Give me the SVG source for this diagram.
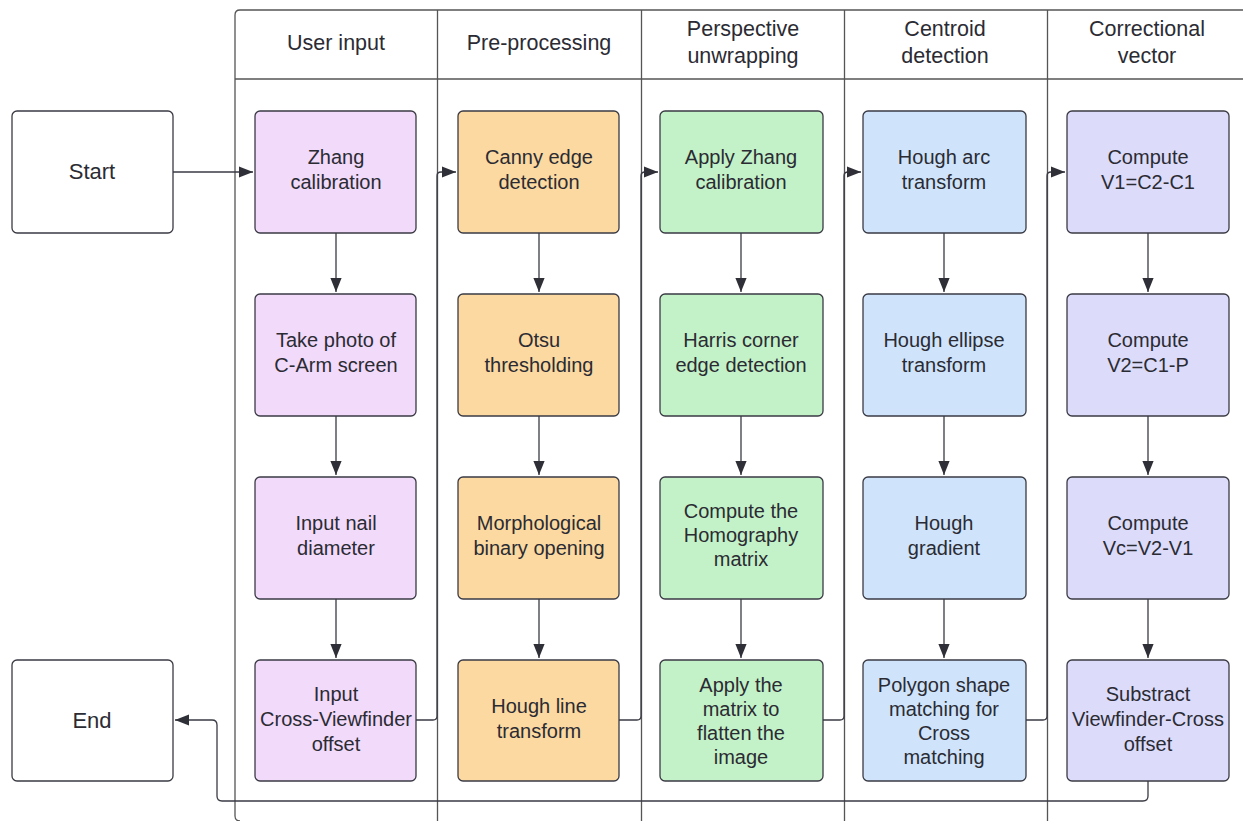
<svg xmlns="http://www.w3.org/2000/svg" width="1243" height="821" viewBox="0 0 1243 821">
<style>
text{font-family:"Liberation Sans",Arial,sans-serif;font-size:20px;fill:#2b2b33;text-anchor:middle}
.h{font-size:21.5px}
.s{font-size:22px}
.n{stroke:#3a3a44;stroke-width:1.3}
.w{fill:#fff}.p{fill:#F1DAFA}.o{fill:#FBD9A1}.g{fill:#C4F2C8}.b{fill:#CFE4FB}.v{fill:#DCDCFA}
.c{fill:none;stroke:#3a3a44;stroke-width:1.3}
.l{fill:none;stroke:#555;stroke-width:1.3}
</style>
<defs>
<marker id="a" viewBox="0 0 10 10" refX="10" refY="5" markerWidth="14" markerHeight="14" markerUnits="userSpaceOnUse" orient="auto">
<path d="M0,1 L10,5 L0,9 Z" fill="#2f2f38"/>
</marker>
</defs>
<rect width="1243" height="821" fill="#fff"/>
<g id="pool">
<path class="l" d="M1243,10 H240 q-5,0 -5,5 V816 q0,5 5,5"/>
<line class="l" x1="235" y1="79" x2="1243" y2="79"/>
<line class="l" x1="437.5" y1="10" x2="437.5" y2="821"/>
<line class="l" x1="641.5" y1="10" x2="641.5" y2="821"/>
<line class="l" x1="844.5" y1="10" x2="844.5" y2="821"/>
<line class="l" x1="1047.5" y1="10" x2="1047.5" y2="821"/>
<text class="h" x="336" y="50">User input</text>
<text class="h" x="539" y="50">Pre-processing</text>
<text class="h" x="743" y="36">Perspective</text>
<text class="h" x="743" y="63">unwrapping</text>
<text class="h" x="945" y="36">Centroid</text>
<text class="h" x="945" y="63">detection</text>
<text class="h" x="1147" y="36">Correctional</text>
<text class="h" x="1147" y="63">vector</text>
</g>
<g id="connectors">
<path class="c" d="M173,172 H253" marker-end="url(#a)"/>
<path class="c" d="M336,233 V292" marker-end="url(#a)"/>
<path class="c" d="M336,416 V475" marker-end="url(#a)"/>
<path class="c" d="M336,599 V658" marker-end="url(#a)"/>
<path class="c" d="M539,233 V292" marker-end="url(#a)"/>
<path class="c" d="M539,416 V475" marker-end="url(#a)"/>
<path class="c" d="M539,599 V658" marker-end="url(#a)"/>
<path class="c" d="M741,233 V292" marker-end="url(#a)"/>
<path class="c" d="M741,416 V475" marker-end="url(#a)"/>
<path class="c" d="M741,599 V658" marker-end="url(#a)"/>
<path class="c" d="M944,233 V292" marker-end="url(#a)"/>
<path class="c" d="M944,416 V475" marker-end="url(#a)"/>
<path class="c" d="M944,599 V658" marker-end="url(#a)"/>
<path class="c" d="M1148,233 V292" marker-end="url(#a)"/>
<path class="c" d="M1148,416 V475" marker-end="url(#a)"/>
<path class="c" d="M1148,599 V658" marker-end="url(#a)"/>
<path class="c" d="M416,720 H433 q4,0 4,-4 V176 q0,-4 4,-4 H456" marker-end="url(#a)"/>
<path class="c" d="M619,720 H637 q4,0 4,-4 V176 q0,-4 4,-4 H658" marker-end="url(#a)"/>
<path class="c" d="M823,720 H840 q4,0 4,-4 V176 q0,-4 4,-4 H861" marker-end="url(#a)"/>
<path class="c" d="M1026,720 H1043 q4,0 4,-4 V176 q0,-4 4,-4 H1065" marker-end="url(#a)"/>
<path class="c" d="M1148,781 V796 q0,5 -5,5 H222 q-5,0 -5,-5 V725 q0,-5 -5,-5 H175" marker-end="url(#a)"/>
</g>
<g id="start"><rect class="n w" x="12" y="111" width="161" height="122" rx="5"/><text class="s" x="92" y="179">Start</text></g>
<g id="end"><rect class="n w" x="12" y="660" width="161" height="121" rx="5"/><text class="s" x="92" y="728">End</text></g>
<g id="u1"><rect class="n p" x="255" y="111" width="161" height="122" rx="5"/><text x="336" y="164">Zhang</text><text x="336" y="189">calibration</text></g>
<g id="u2"><rect class="n p" x="255" y="294" width="161" height="122" rx="5"/><text x="336" y="347">Take photo of</text><text x="336" y="372">C-Arm screen</text></g>
<g id="u3"><rect class="n p" x="255" y="477" width="161" height="122" rx="5"/><text x="336" y="530">Input nail</text><text x="336" y="555">diameter</text></g>
<g id="u4"><rect class="n p" x="255" y="660" width="161" height="121" rx="5"/><text x="336" y="701">Input</text><text x="336" y="726">Cross-Viewfinder</text><text x="336" y="751">offset</text></g>
<g id="p1"><rect class="n o" x="458" y="111" width="161" height="122" rx="5"/><text x="539" y="164">Canny edge</text><text x="539" y="189">detection</text></g>
<g id="p2"><rect class="n o" x="458" y="294" width="161" height="122" rx="5"/><text x="539" y="347">Otsu</text><text x="539" y="372">thresholding</text></g>
<g id="p3"><rect class="n o" x="458" y="477" width="161" height="122" rx="5"/><text x="539" y="530">Morphological</text><text x="539" y="555">binary opening</text></g>
<g id="p4"><rect class="n o" x="458" y="660" width="161" height="121" rx="5"/><text x="539" y="713">Hough line</text><text x="539" y="738">transform</text></g>
<g id="w1"><rect class="n g" x="660" y="111" width="163" height="122" rx="5"/><text x="741" y="164">Apply Zhang</text><text x="741" y="189">calibration</text></g>
<g id="w2"><rect class="n g" x="660" y="294" width="163" height="122" rx="5"/><text x="741" y="347">Harris corner</text><text x="741" y="372">edge detection</text></g>
<g id="w3"><rect class="n g" x="660" y="477" width="163" height="122" rx="5"/><text x="741" y="518">Compute the</text><text x="741" y="542">Homography</text><text x="741" y="566">matrix</text></g>
<g id="w4"><rect class="n g" x="660" y="660" width="163" height="121" rx="5"/><text x="741" y="692">Apply the</text><text x="741" y="716">matrix to</text><text x="741" y="740">flatten the</text><text x="741" y="764">image</text></g>
<g id="c1"><rect class="n b" x="863" y="111" width="163" height="122" rx="5"/><text x="944" y="164">Hough arc</text><text x="944" y="189">transform</text></g>
<g id="c2"><rect class="n b" x="863" y="294" width="163" height="122" rx="5"/><text x="944" y="347">Hough ellipse</text><text x="944" y="372">transform</text></g>
<g id="c3"><rect class="n b" x="863" y="477" width="163" height="122" rx="5"/><text x="944" y="530">Hough</text><text x="944" y="555">gradient</text></g>
<g id="c4"><rect class="n b" x="863" y="660" width="163" height="121" rx="5"/><text x="944" y="692">Polygon shape</text><text x="944" y="716">matching for</text><text x="944" y="740">Cross</text><text x="944" y="764">matching</text></g>
<g id="v1"><rect class="n v" x="1067" y="111" width="162" height="122" rx="5"/><text x="1148" y="164">Compute</text><text x="1148" y="189">V1=C2-C1</text></g>
<g id="v2"><rect class="n v" x="1067" y="294" width="162" height="122" rx="5"/><text x="1148" y="347">Compute</text><text x="1148" y="372">V2=C1-P</text></g>
<g id="v3"><rect class="n v" x="1067" y="477" width="162" height="122" rx="5"/><text x="1148" y="530">Compute</text><text x="1148" y="555">Vc=V2-V1</text></g>
<g id="v4"><rect class="n v" x="1067" y="660" width="162" height="121" rx="5"/><text x="1148" y="701">Substract</text><text x="1148" y="726">Viewfinder-Cross</text><text x="1148" y="751">offset</text></g>
</svg>
